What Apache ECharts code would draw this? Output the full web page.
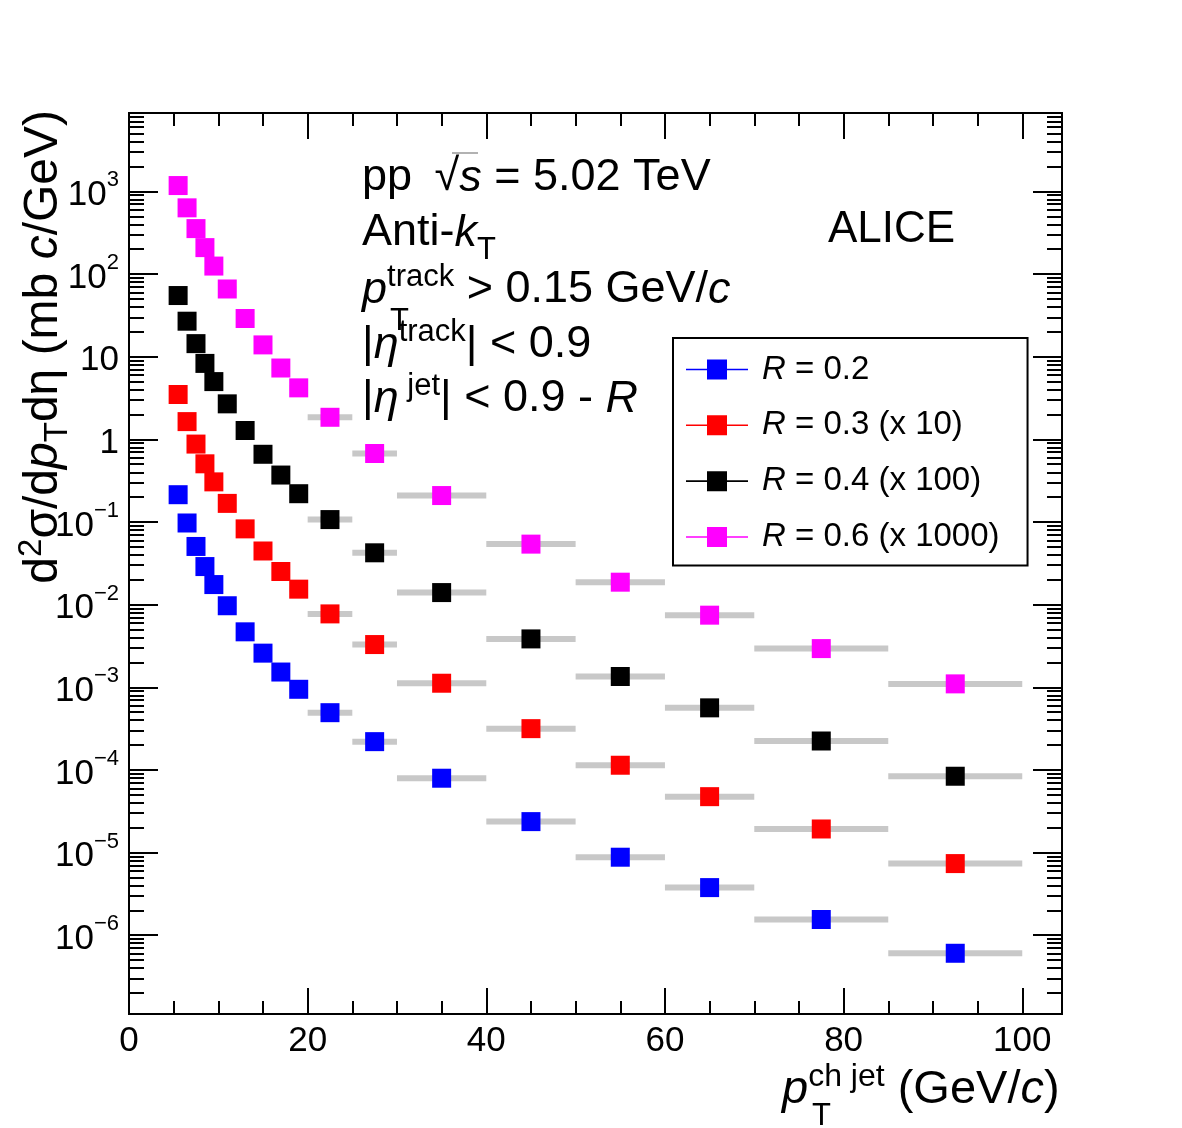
<!DOCTYPE html>
<title>jet cross section</title>
<style>
body {
    margin: 0;
}
#echart {
    height: 1128px;
    width: 1182px;
}
</style>
<div id='echart'></div>
<script src='https://cdn.jsdelivr.net/npm/echarts@6.0.0/dist/echarts.min.js'></script>
<script>
// bins in pT (GeV/c)
let bin_low = [5, 6, 7, 8, 9, 10, 12, 14, 16, 18, 20, 25, 30, 40, 50, 60, 70, 85]
let bin_high = [6, 7, 8, 9, 10, 12, 14, 16, 18, 20, 25, 30, 40, 50, 60, 70, 85, 100]
// plotted values, already scaled as in the legend
let r02 = [0.214, 0.0973, 0.0506, 0.0289, 0.0175, 0.0097, 0.00469, 0.00259, 0.00153, 0.000946, 0.000493, 0.00022, 7.94e-5, 2.37e-5, 8.79e-6, 3.77e-6, 1.55e-6, 6.05e-7]
let r03 = [3.49, 1.64, 0.877, 0.506, 0.306, 0.168, 0.0826, 0.0446, 0.0252, 0.0154, 0.00773, 0.00329, 0.00112, 0.000316, 0.000114, 4.75e-5, 1.93e-5, 7.36e-6]
let r04 = [55, 26.9, 14.4, 8.3, 5.0, 2.69, 1.28, 0.66, 0.37, 0.22, 0.107, 0.0424, 0.014, 0.00385, 0.00135, 0.000564, 0.000224, 8.39e-5]
let r06 = [1178, 633, 355, 209, 125, 66, 29, 13.9, 7.3, 4.2, 1.85, 0.674, 0.209, 0.054, 0.0187, 0.00746, 0.00294, 0.0011]
let names = ['R = 0.2', 'R = 0.3 (x 10)', 'R = 0.4 (x 100)', 'R = 0.6 (x 1000)']
let colors = ['#0000ff', '#ff0000', '#000000', '#ff00ff']
let x_major = [0, 20, 40, 60, 80, 100]
let x_minor = [5, 10, 15, 25, 30, 35, 45, 50, 55, 65, 70, 75, 85, 90, 95]
let y_decades = [-7, -6, -5, -4, -3, -2, -1, 0, 1, 2, 3]

let FONT = 'Liberation Sans'
let X_MAX = 104.45
let Y_MIN = 1.114e-7
let Y_MAX = 8892

let y_major = y_decades.filter(n => n >= -6).map(n => Math.pow(10, n))
let y_minor = []
for (let n of y_decades)
    for (let k = 2; k <= 9; k++)
        y_minor.push(k * Math.pow(10, n))

let echart = echarts.init(document.querySelector('#echart'))

let frame = {show: true, onZero: false, lineStyle: {color: '#000', width: 2}}
function x_axis(position, ticks, length, labels) {
    return {
        type: 'value', position, min: 0, max: X_MAX,
        axisLine: frame,
        axisTick: {show: true, inside: true, length, customValues: ticks, lineStyle: {color: '#000', width: 2}},
        axisLabel: labels ? {
            show: true, customValues: ticks, margin: -3, color: '#000', fontSize: 35, fontFamily: FONT,
        } : {show: false},
        splitLine: {show: false},
    }
}
function y_axis(position, ticks, length, labels) {
    return {
        type: 'log', logBase: 10, position, min: Y_MIN, max: Y_MAX,
        axisLine: frame,
        axisTick: {show: true, inside: true, length, customValues: ticks, lineStyle: {color: '#000', width: 2}},
        axisLabel: labels ? {
            show: true, customValues: ticks, margin: 10,
            formatter: function (value) {
                let n = Math.round(Math.log10(value))
                if (n == 0) return '{n|1}'
                if (n == 1) return '{n|10}'
                return '{n|10}{sup|' + (n < 0 ? '\u2212' + (-n) : n) + '}'
            },
            rich: {
                n: {fontSize: 35, fontFamily: FONT, color: '#000', lineHeight: 44, padding: [8, 0, 0, 0]},
                sup: {fontSize: 22, fontFamily: FONT, color: '#000', lineHeight: 44, padding: [0, 0, 22, 0]},
            },
        } : {show: false},
        splitLine: {show: false},
    }
}

function rich(size, up, down) {
    let small = Math.round(size * 0.68)
    return {
        i: {fontSize: size, fontStyle: 'italic', fontFamily: FONT, fill: '#000', lineHeight: 60},
        sup: {fontSize: small, fontFamily: FONT, fill: '#000', lineHeight: 60, padding: [0, 0, 2 * up, 0]},
        sub: {fontSize: small, fontFamily: FONT, fill: '#000', lineHeight: 60, padding: [2 * down, 0, 0, 0]},
    }
}
function text(x, y, content, size, extra) {
    return {
        type: 'text', x, y, silent: true,
        style: {
            text: content, fontSize: size, fontFamily: FONT, fill: '#000', lineHeight: 60,
            align: 'left', verticalAlign: 'middle', textAlign: 'left', textVerticalAlign: 'middle',
            rich: rich(size, 13, 17),
            ...extra,
        },
    }
}

let series = []
let values = [r02, r03, r04, r06]
values.forEach(function (list, index) {
    series.push({
        type: 'custom', name: names[index] + ' sys', z: 2, silent: true,
        renderItem: function (params, api) {
            let start = api.coord([api.value(0), api.value(2)])
            let end = api.coord([api.value(1), api.value(2)])
            return {type: 'line', shape: {x1: start[0], y1: start[1], x2: end[0], y2: end[1]}, style: {stroke: '#c8c8c8', lineWidth: 6}}
        },
        encode: {x: [0, 1], y: 2},
        data: list.map((v, i) => [bin_low[i], bin_high[i], v]),
    })
    series.push({
        type: 'scatter', name: names[index], z: 3, symbol: 'rect', symbolSize: 19,
        itemStyle: {color: colors[index], opacity: 1},
        data: list.map((v, i) => [(bin_low[i] + bin_high[i]) / 2, v]),
    })
})

let option = {
    animation: false,
    grid: {left: 129, top: 113, width: 933, height: 901, outerBoundsMode: 'none'},
    xAxis: [
        x_axis('bottom', x_major, 26, true),
        x_axis('bottom', x_minor, 13, false),
        x_axis('top', x_major, 26, false),
        x_axis('top', x_minor, 13, false),
    ],
    yAxis: [
        y_axis('left', y_major, 29, true),
        y_axis('left', y_minor, 15, false),
        y_axis('right', y_major, 29, false),
        y_axis('right', y_minor, 15, false),
    ],
    legend: {
        data: names, orient: 'vertical', left: 673, top: 338,
        padding: [3, 28, 0, 13], itemGap: -1, itemWidth: 62, itemHeight: 20,
        borderColor: '#000', borderWidth: 2, backgroundColor: '#fff',
        icon: 'path://M0,9.2L62,9.2L62,10.8L0,10.8ZM21,0L41,0L41,20L21,20Z',
        formatter: name => '{i|R}' + name.slice(1),
        textStyle: {
            fontSize: 33, fontFamily: FONT, color: '#000', lineHeight: 20,
            rich: {i: {fontSize: 33, fontFamily: FONT, fontStyle: 'italic', color: '#000', lineHeight: 20, padding: [0, 0, 0, 9]}},
        },
        selectedMode: false,
    },
    graphic: [
        text(362, 178, 'pp\u2002\u221a{i|s} = 5.02 TeV', 45),
        {type: 'line', silent: true, shape: {x1: 452, y1: 153, x2: 478, y2: 153}, style: {stroke: '#999', lineWidth: 1.5}},
        text(362, 233, 'Anti-{i|k}{sub|T}', 45),
        text(362, 290, '{i|p}{sup|track} > 0.15 GeV/{i|c}', 45),
        text(390, 321, 'T', 31),
        text(362, 345, '|{i|\u03b7}{sup|track}| < 0.9', 45),
        text(362, 399, '|{i|\u03b7}{sup| jet}| < 0.9 - {i|R}', 45),
        text(828, 230, 'ALICE', 44),
        text(782, 1090, '{i|p}{sup|ch jet} (GeV/{i|c})', 47),
        text(812, 1116, 'T', 31),
        {
            type: 'text', x: 44, y: 110, rotation: Math.PI / 2, silent: true,
            style: {
                text: 'd{sup|2}\u03c3/d{i|p}{sub|T}d\u03b7 (mb {i|c}/GeV)', fontSize: 48, fontFamily: FONT, fill: '#000', lineHeight: 60,
                align: 'right', verticalAlign: 'middle', textAlign: 'right', textVerticalAlign: 'middle',
                rich: rich(48, 12, 14),
            },
        },
    ],
    series,
}
echart.setOption(option)
</script>
